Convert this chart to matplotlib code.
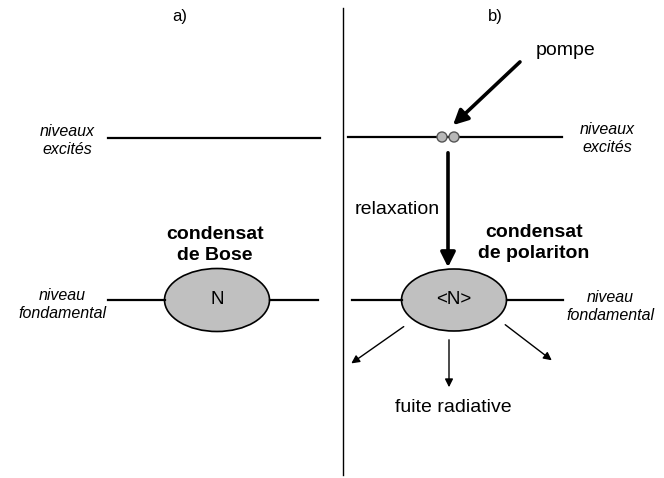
import matplotlib.pyplot as plt
from matplotlib.patches import Ellipse, Circle, FancyArrowPatch

plt.rcParams["font.family"] = ["Liberation Sans", "DejaVu Sans"]

panel_labels = ["a)", "b)"]
level_labels = ["niveaux\nexcités", "niveau\nfondamental"]
condensate_labels = ["condensat\nde Bose", "condensat\nde polariton"]
occupation_labels = ["N", "<N>"]
pump_label = "pompe"
relax_label = "relaxation"
leak_label = "fuite radiative"

fig = plt.figure(figsize=(6.64, 4.78), dpi=100)
ax = fig.add_axes([0, 0, 1, 1])
ax.set_xlim(0, 664)
ax.set_ylim(478, 0)
ax.axis("off")

# separator
ax.plot([343, 343], [8, 475], color="black", lw=1.0)

ax.text(180, 16, panel_labels[0], fontsize=12, ha="center", va="center")
ax.text(495, 16, panel_labels[1], fontsize=12, ha="center", va="center")

# ---- panel a
ax.plot([108, 320], [138, 138], color="black", lw=1.6)
ax.text(67, 140, level_labels[0], fontsize=11.5, style="italic",
        ha="center", va="center", linespacing=1.25)

ax.plot([108, 165], [300, 300], color="black", lw=1.6)
ax.plot([270, 318], [300, 300], color="black", lw=1.6)
ax.add_patch(Ellipse((217, 300), 105, 63, facecolor="#c0c0c0",
                     edgecolor="black", lw=1.2))
ax.text(217, 300, occupation_labels[0], fontsize=13.5,
        ha="center", va="center")
ax.text(215, 245, condensate_labels[0], fontsize=14, fontweight="bold",
        ha="center", va="center", linespacing=1.25)
ax.text(62, 305, level_labels[1], fontsize=11.5, style="italic",
        ha="center", va="center", linespacing=1.25)

# ---- panel b
ax.plot([348, 562], [137, 137], color="black", lw=1.6)
for cx in [442, 454]:
    ax.add_patch(Circle((cx, 137), 5, facecolor="#b8b8b8",
                        edgecolor="#555555", lw=1.0, zorder=3))
ax.text(607, 139, level_labels[0], fontsize=11.5, style="italic",
        ha="center", va="center", linespacing=1.25)

ax.add_patch(FancyArrowPatch((522, 60), (451, 127), arrowstyle="-|>",
                             mutation_scale=22, lw=2.6, color="black"))
ax.text(566, 50, pump_label, fontsize=14, ha="center", va="center")

ax.add_patch(FancyArrowPatch((448, 150), (448, 270), arrowstyle="-|>",
                             mutation_scale=22, lw=2.6, color="black"))
ax.text(397, 209, relax_label, fontsize=14, ha="center", va="center")

ax.plot([352, 402], [300, 300], color="black", lw=1.6)
ax.plot([507, 563], [300, 300], color="black", lw=1.6)
ax.add_patch(Ellipse((454, 300), 105, 62, facecolor="#c0c0c0",
                     edgecolor="black", lw=1.2))
ax.text(454, 300, occupation_labels[1], fontsize=13.5,
        ha="center", va="center")
ax.text(534, 243, condensate_labels[1], fontsize=14, fontweight="bold",
        ha="center", va="center", linespacing=1.25)
ax.text(610, 307, level_labels[1], fontsize=11.5, style="italic",
        ha="center", va="center", linespacing=1.25)

for start, end in [((406, 325), (349, 365)),
                   ((449, 337), (449, 390)),
                   ((503, 323), (554, 362))]:
    ax.add_patch(FancyArrowPatch(start, end, arrowstyle="-|>",
                                 mutation_scale=12, lw=1.0, color="black"))
ax.text(453, 407, leak_label, fontsize=14, ha="center", va="center")

fig.savefig("out.png", dpi=100)
